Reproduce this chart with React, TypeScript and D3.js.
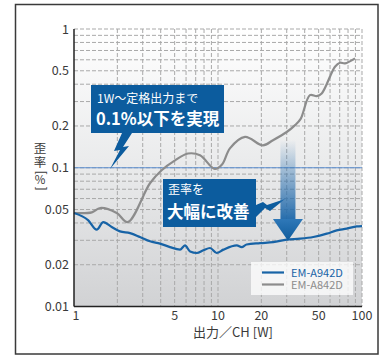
import React from 'react';
import * as d3 from 'd3';

const xTicks = [1, 5, 10, 20, 50, 100];
const yTicks = [0.01, 0.02, 0.05, 0.1, 0.2, 0.5, 1];
const yTickLabels = ['0.01', '0.02', '0.05', '0.1', '0.2', '0.5', '1'];
const gridX = [2, 3, 4, 5, 6, 7, 8, 9, 10, 20, 30, 40, 50, 60, 70, 80, 90, 100];
const gridY = [0.02, 0.03, 0.04, 0.05, 0.06, 0.07, 0.08, 0.09, 0.1, 0.2, 0.3, 0.4, 0.5, 0.6, 0.7, 0.8, 0.9, 1];

const grayW = [1, 1.33, 1.52, 1.98, 2.36, 3.37, 4.06, 5.03, 6.19, 7.5, 9.5, 10.7, 12.1, 15.4, 20.5, 24.1, 30, 34.3, 37.5, 43.5, 48.5, 52.5, 64.9, 70.3, 76.2, 89.4];
const grayV = [0.0472, 0.0477, 0.0513, 0.0472, 0.0406, 0.0773, 0.0959, 0.113, 0.1266, 0.123, 0.098, 0.106, 0.138, 0.167, 0.145, 0.158, 0.181, 0.203, 0.225, 0.334, 0.328, 0.343, 0.534, 0.571, 0.565, 0.614];

const blueW = [1, 1.257, 1.438, 1.598, 1.827, 2.085, 2.45, 2.87, 3.37, 3.96, 4.64, 5.45, 5.9, 6.4, 7.12, 7.9, 8.8, 9.8, 10.9, 13.5, 14.6, 15.8, 19.6, 24.2, 30, 37.1, 45.9, 56.9, 66.7, 78.3, 91.9, 100];
const blueV = [0.0472, 0.0418, 0.0358, 0.0406, 0.0374, 0.0348, 0.0338, 0.0317, 0.0295, 0.0284, 0.0268, 0.0257, 0.0276, 0.0249, 0.0243, 0.0254, 0.0264, 0.0243, 0.0257, 0.0276, 0.0268, 0.028, 0.0286, 0.0291, 0.0303, 0.0308, 0.0317, 0.0335, 0.0354, 0.0364, 0.0378, 0.038];

const seriesNames = ['EM-A942D', 'EM-A842D'];
const refLevel = 0.1;
const arrowW = 30.6;

const FONT = '"Noto Sans CJK JP", "Noto Sans", sans-serif';
const BLUE = '#1763a6';
const BOX = '#0c5c9e';
const GRAY = '#8c8c8c';

export default function App() {
  const x = d3.scaleLog().domain([1, 100]).range([74, 362]);
  const y = d3.scaleLog().domain([0.01, 1]).range([306.5, 29]);
  const [x0, x1] = x.range();
  const [yb, yt] = y.range();

  const grayLine = d3
    .line<number>()
    .x((_, i) => x(grayW[i]))
    .y((d) => y(d))
    .curve(d3.curveCatmullRom.alpha(0.5));
  const blueLine = d3
    .line<number>()
    .x((_, i) => x(blueW[i]))
    .y((d) => y(d))
    .curve(d3.curveMonotoneX);

  const ax = x(arrowW);
  const tipY = y(0.0303) + 1;

  return (
    <svg width={388} height={356} style={{ position: 'absolute', left: 0, top: 0 }} fontFamily={FONT}>
      <defs>
        <linearGradient id="bg" x1="0" y1="0" x2="0" y2="1">
          <stop offset="0" stopColor="#ffffff" />
          <stop offset="0.5" stopColor="#e9eaeb" />
          <stop offset="1" stopColor="#d1d2d4" />
        </linearGradient>
        <linearGradient id="shaft" x1="0" y1="0" x2="0" y2="1">
          <stop offset="0" stopColor="#2a70b0" stopOpacity="0" />
          <stop offset="0.5" stopColor="#2a70b0" stopOpacity="0.5" />
          <stop offset="1" stopColor="#1e68aa" stopOpacity="0.95" />
        </linearGradient>
        <linearGradient id="head" x1="0" y1="0" x2="0" y2="1">
          <stop offset="0" stopColor="#2f78b8" />
          <stop offset="1" stopColor="#0e5b9c" />
        </linearGradient>
      </defs>
      <rect x={15.5} y={4.5} width={362.5} height={349.5} fill="#fff" stroke="#3a3a3a" strokeWidth={1.5} />
      <rect x={x0} y={yt} width={x1 - x0} height={yb - yt} fill="url(#bg)" />
      {gridX.map((v) => (
        <line key={'gx' + v} x1={x(v)} x2={x(v)} y1={yt} y2={yb} stroke="#a9a9a9" strokeWidth={1} strokeDasharray="4,2" />
      ))}
      {gridY.map((v) => (
        <line key={'gy' + v} x1={x0} x2={x1} y1={y(v)} y2={y(v)} stroke="#a9a9a9" strokeWidth={1} strokeDasharray="4,2" />
      ))}
      <line x1={x0} x2={x1} y1={y(refLevel)} y2={y(refLevel)} stroke="#5b8fd2" strokeWidth={1.2} />
      <path d={grayLine(grayV) || ''} fill="none" stroke={GRAY} strokeWidth={2.2} />
      <path d={blueLine(blueV) || ''} fill="none" stroke={BLUE} strokeWidth={2.2} />
      <line x1={x0} x2={x0} y1={yt} y2={yb} stroke="#222" strokeWidth={1.5} />
      <line x1={x0} x2={x1} y1={yb} y2={yb} stroke="#222" strokeWidth={1.5} />
      {yTicks.map((v, i) => (
        <text key={'yt' + v} x={69} y={y(v) + 4.5} textAnchor="end" fontSize={12.5} fill="#3a3a3a">
          {yTickLabels[i]}
        </text>
      ))}
      {xTicks.map((v) => (
        <text key={'xt' + v} x={x(v) + (v === 1 ? 2 : 0)} y={320} textAnchor="middle" fontSize={12.5} fill="#3a3a3a">
          {v}
        </text>
      ))}
      <text x={233} y={337} textAnchor="middle" fontSize={13} fill="#3a3a3a">出力／CH [W]</text>
      <g fill="#3a3a3a" fontSize={12.5}>
        <text x={40} y={153} textAnchor="middle">歪</text>
        <text x={40} y={167} textAnchor="middle">率</text>
        <text x={0} y={0} textAnchor="middle" transform="translate(36.5,172.5) rotate(90)">[</text>
        <text x={40} y={184} textAnchor="middle" fontSize={11.5}>%</text>
        <text x={0} y={0} textAnchor="middle" transform="translate(36.5,188.5) rotate(90)">]</text>
      </g>

      {/* callout 1 */}
      <path d="M91,85 H224 V133 H132 L123,147 L129,146 L110,169 L120,150 L114,151 L122,133 H91 Z" fill={BOX} />
      <text x={97} y={103} fontSize={12} fill="#fff">1W～定格出力まで</text>
      <text x={96} y={124.5} fontSize={16.5} fontWeight="bold" fill="#fff">0.1%以下を実現</text>

      {/* callout 2 */}
      <path d="M163,179 H256 V205 L263,202 L267,205 L285,199 L270,211 L265,208 L256,217 V227 H163 Z" fill={BOX} />
      <text x={168} y={194} fontSize={12} fill="#fff">歪率を</text>
      <text x={167} y={217.5} fontSize={16.5} fontWeight="bold" fill="#fff">大幅に改善</text>

      {/* arrow */}
      <rect x={ax - 7.5} y={140} width={15} height={219 - 140} fill="url(#shaft)" />
      <path d={`M${ax - 15},219 H${ax + 15} L${ax},${tipY} Z`} fill="url(#head)" />

      {/* legend */}
      <rect x={251} y={262} width={102} height={33} fill="#fff" fillOpacity={0.75} />
      <line x1={262} x2={284} y1={272.5} y2={272.5} stroke={BLUE} strokeWidth={2.2} />
      <line x1={262} x2={284} y1={284.5} y2={284.5} stroke={GRAY} strokeWidth={2.2} />
      <text x={291} y={276.5} fontSize={11} fill={BLUE}>{seriesNames[0]}</text>
      <text x={291} y={288.5} fontSize={11} fill={GRAY}>{seriesNames[1]}</text>
    </svg>
  );
}
